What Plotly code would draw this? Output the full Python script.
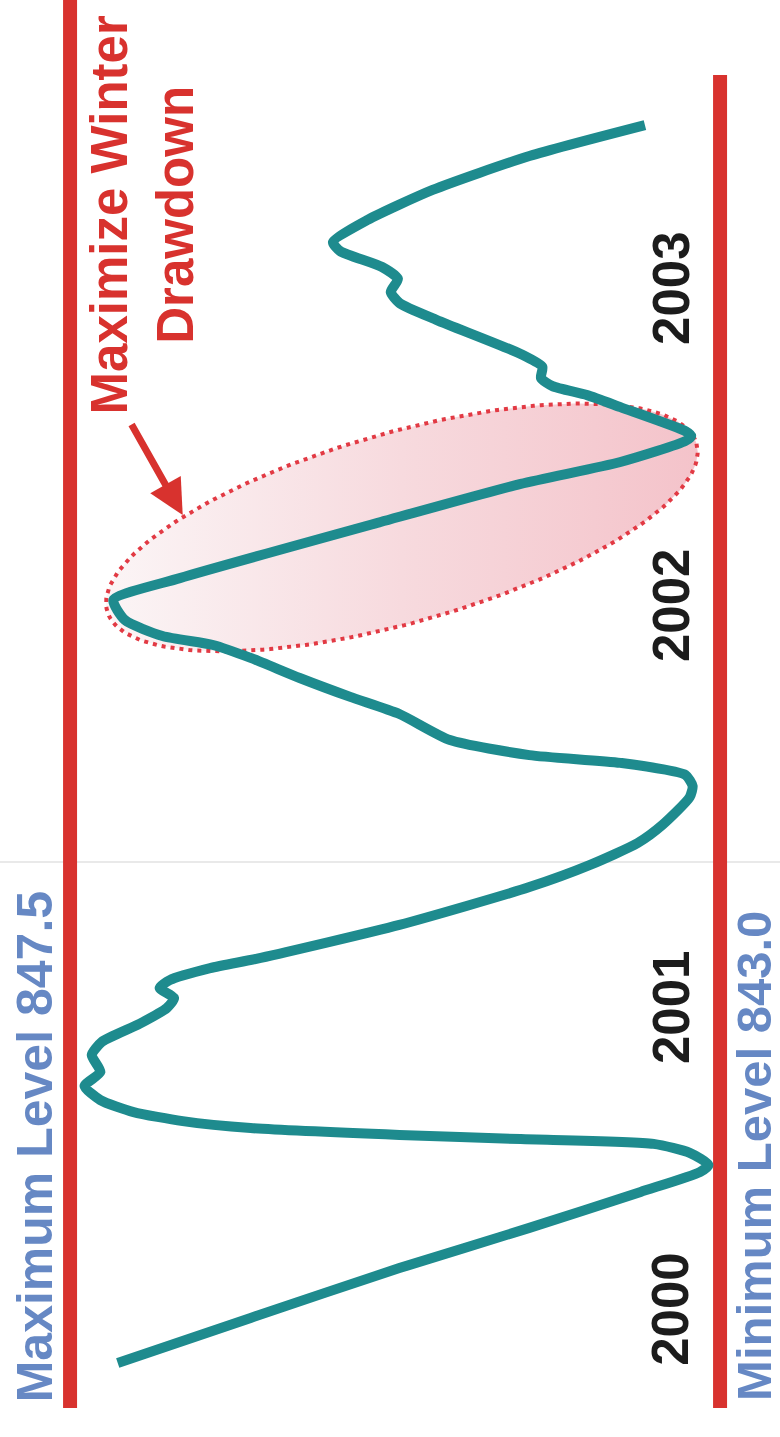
import numpy as np
import plotly.graph_objects as go

# Reservoir elevation (ft) through three drawdown cycles, month index from start
month = [2.57, 4.07, 5.73, 7.07, 8.27, 8.93, 9.17,
         9.57, 9.87, 10.03, 10.17, 10.4, 10.63, 10.93, 11.33, 11.8,
         12.27, 12.83, 13.27, 13.87, 14.4, 14.73, 15.07, 15.33, 15.73, 16.07,
         17.17, 18.43, 19.17, 19.9, 20.5, 21.43, 21.8,
         22.17, 22.57, 22.83, 23.33, 24.2, 24.77, 25.4, 26.07, 26.5, 26.8, 27.33, 28.0,
         28.73, 30.6, 31.87, 32.6, 33.3, 33.47,
         33.63, 34.43, 34.83, 35.13, 35.4, 35.77, 36.2, 37.33, 37.9, 38.27, 38.7,
         39.1, 39.63, 39.93, 40.67, 41.67, 42.8, 43.83]
level_ft = [847.17, 846.25, 845.22, 844.32, 843.55, 843.14, 843.08,
            843.21, 843.46, 844.38, 845.22, 846.25, 846.72, 847.06, 847.29, 847.40,
            847.29, 847.35, 847.28, 847.02, 846.83, 846.78, 846.88, 846.81, 846.53, 846.18,
            845.22, 844.32, 843.90, 843.57, 843.40, 843.21, 843.19,
            843.24, 843.69, 844.32, 844.87, 845.22, 845.56, 845.91, 846.25, 846.51, 846.86, 847.12, 847.20,
            846.74, 845.35, 844.38, 843.69, 843.24, 843.20,
            843.24, 843.69, 843.92, 844.16, 844.24, 844.23, 844.38, 844.96, 845.22, 845.28, 845.23,
            845.34, 845.63, 845.68, 845.44, 844.99, 844.32, 843.52]

# Operating limits
max_level = 847.5
min_level = 843.0

# Year labels and where they sit along the time axis
years = ["2000", "2001", "2002", "2003"]
year_month = [4.37, 14.43, 27.83, 38.4]
year_label_level = 843.34

# Highlighted drawdown: from the 2002 peak to the following trough
peak_idx = 44
trough_idx = 50

W, H = 780, 1437
x_range = [847.985, 842.585]   # reversed: high water on the left
y_range = [0.1, 48.0]

RED = "#d8322e"
TEAL = "#1e8b8e"
BLUE = "#6688c4"

px_per_ft = W / (x_range[0] - x_range[1])
px_per_mo = H / (y_range[1] - y_range[0])


def to_px(lv, mo):
    return np.array([(x_range[0] - lv) * px_per_ft, (y_range[1] - mo) * px_per_mo])


def to_data(p):
    return x_range[0] - p[0] / px_per_ft, y_range[1] - p[1] / px_per_mo


# Ellipse around the drawdown segment, built in screen space
p0 = to_px(level_ft[peak_idx], month[peak_idx])
p1 = to_px(level_ft[trough_idx], month[trough_idx])
vec = p1 - p0
half = np.linalg.norm(vec) / 2
u = vec / np.linalg.norm(vec)
n = np.array([-u[1], u[0]])
if n[1] < 0:
    n = -n
center = (p0 + p1) / 2 + 9 * n - 3 * u
a, b = half + 6, 95
theta = np.linspace(0, 2 * np.pi, 241)
ell = center[:, None] + a * np.cos(theta) * u[:, None] + b * np.sin(theta) * n[:, None]
ell_lv, ell_mo = to_data(ell)

fig = go.Figure()

fig.add_trace(go.Scatter(
    x=ell_lv, y=ell_mo, mode="lines", fill="toself",
    fillgradient=dict(type="horizontal",
                      colorscale=[[0, "#f4c3ca"], [0.5, "#f7dade"], [1, "#fbf5f6"]],
                      start=float(ell_lv.min()), stop=float(ell_lv.max())),
    line=dict(color="#e23a44", width=4, dash="4px,5px"),
    hoverinfo="skip",
))

fig.add_trace(go.Scatter(
    x=level_ft, y=month, mode="lines",
    line=dict(color=TEAL, width=10, shape="spline", smoothing=0.6),
    hoverinfo="skip",
))

shapes = [
    dict(type="line", xref="paper", yref="y", x0=0, x1=1, y0=19.27, y1=19.27,
         line=dict(color="#e2e2e2", width=1.5), layer="below"),
    dict(type="line", xref="x", yref="y", x0=max_level, x1=max_level, y0=1.07, y1=48.2,
         line=dict(color=RED, width=14), layer="below"),
    dict(type="line", xref="x", yref="y", x0=min_level, x1=min_level, y0=1.07, y1=45.5,
         line=dict(color=RED, width=14), layer="below"),
]

font_txt = "Liberation Sans, Arial, sans-serif"
annotations = []
for yr, m in zip(years, year_month):
    annotations.append(dict(
        x=year_label_level, y=m, xref="x", yref="y", text=f"<b>{yr}</b>",
        showarrow=False, textangle=-90, xanchor="center", yanchor="middle",
        font=dict(family=font_txt, size=51, color="#1c1c1c")))

annotations += [
    dict(x=847.74, y=9.77, xref="x", yref="y", text=f"<b>Maximum Level {max_level:.1f}</b>",
         showarrow=False, textangle=-90, xanchor="center", yanchor="middle",
         font=dict(family=font_txt, size=50, color=BLUE)),
    dict(x=842.765, y=9.47, xref="x", yref="y", text=f"<b>Minimum Level {min_level:.1f}</b>",
         showarrow=False, textangle=-90, xanchor="center", yanchor="middle",
         font=dict(family=font_txt, size=49, color=BLUE)),
    dict(x=847.0, y=40.83, xref="x", yref="y", text="<b>Maximize Winter<br>Drawdown</b>",
         showarrow=False, textangle=-90, xanchor="center", yanchor="middle",
         font=dict(family=font_txt, size=51, color=RED)),
    dict(x=846.72, y=30.83, xref="x", yref="y", ax=847.08, ay=33.9, axref="x", ayref="y",
         text="", showarrow=True, arrowhead=2, arrowsize=1, arrowwidth=7, arrowcolor=RED),
]

fig.update_layout(
    width=W, height=H,
    margin=dict(l=0, r=0, t=0, b=0),
    paper_bgcolor="white", plot_bgcolor="white",
    showlegend=False,
    xaxis=dict(range=x_range, visible=False, fixedrange=True),
    yaxis=dict(range=y_range, visible=False, fixedrange=True),
    shapes=shapes, annotations=annotations,
)

fig.write_html("out.html")
